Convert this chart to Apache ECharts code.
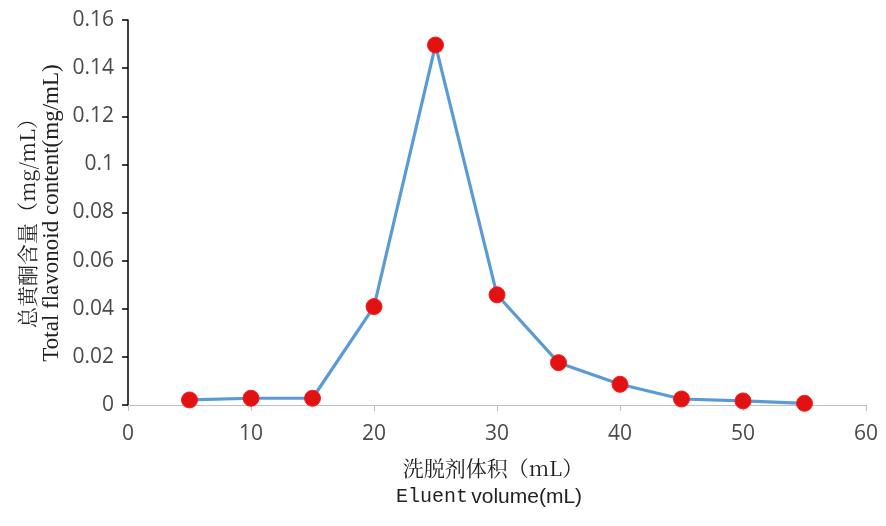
<!DOCTYPE html>
<html><head><meta charset="utf-8">
<script src="https://cdn.jsdelivr.net/npm/echarts@6/dist/echarts.min.js"></script>
<style>html,body{margin:0;padding:0;background:#fff}#c{width:886px;height:526px}</style>
</head><body><div id="c"></div>
<script>
const volumes = [5, 10, 15, 20, 25, 30, 35, 40, 45, 50, 55];
const flavonoid = [0.0021, 0.0028, 0.0028, 0.0409, 0.1496, 0.0458, 0.0176, 0.0086, 0.0025, 0.0017, 0.0007];
const xTitleCn = '洗脱剂体积（mL）';
const xTitleEnA = 'Eluent';
const xTitleEnB = 'volume(mL)';
const yTitleCn = '总黄酮含量（mg/mL）';
const yTitleEn = 'Total flavonoid content(mg/mL)';

const chart = echarts.init(document.getElementById('c'), null, {renderer: 'canvas'});
const labelFont = {color: '#4a4a4a', fontSize: 21, fontFamily: 'Open Sans, Noto Sans, sans-serif'};
chart.setOption({
  animation: false,
  backgroundColor: '#fff',
  grid: {left: 128, right: 20, top: 20, bottom: 121, containLabel: false},
  xAxis: {
    type: 'value', min: 0, max: 60, interval: 10,
    axisLine: {show: true, lineStyle: {color: '#bfbfbf', width: 1}},
    axisTick: {show: true, length: 6, lineStyle: {color: '#bfbfbf'}},
    splitLine: {show: false},
    axisLabel: Object.assign({margin: 19}, labelFont)
  },
  yAxis: {
    type: 'value', min: 0, max: 0.16, interval: 0.02,
    axisLine: {show: true, lineStyle: {color: '#000', width: 1.5}},
    axisTick: {show: true, length: 6, lineStyle: {color: '#000', width: 1.5}},
    splitLine: {show: false},
    axisLabel: Object.assign({margin: 14, formatter: v => String(+v.toFixed(2))}, labelFont)
  },
  graphic: [
    {type: 'text', x: 493, y: 468, style: {text: xTitleCn, font: '21px "Noto Serif CJK SC", "Noto Sans CJK SC", serif', fill: '#222', align: 'center', verticalAlign: 'middle'}},
    {type: 'text', x: 489, y: 497, style: {
      text: '{a|' + xTitleEnA + '} {b|' + xTitleEnB + '}', align: 'center', verticalAlign: 'middle',
      rich: {
        a: {fontFamily: '"Liberation Mono", monospace', fontSize: 20, fill: '#222', color: '#222'},
        b: {fontFamily: '"Liberation Sans Narrow", "Liberation Sans", sans-serif', fontSize: 21, color: '#222', fill: '#222'}
      }
    }},
    {type: 'text', rotation: Math.PI / 2, x: 27, y: 218, style: {text: yTitleCn, font: '21px "Noto Serif CJK SC", "Noto Sans CJK SC", serif', fill: '#222', align: 'center', verticalAlign: 'middle'}},
    {type: 'text', rotation: Math.PI / 2, x: 52, y: 213, style: {text: yTitleEn, font: '23px "Liberation Serif", serif', fill: '#222', align: 'center', verticalAlign: 'middle'}}
  ],
  series: [{
    type: 'line',
    data: volumes.map((v, i) => [v, flavonoid[i]]),
    lineStyle: {color: '#5b9bd5', width: 3.2},
    symbol: 'circle', symbolSize: 16,
    itemStyle: {color: '#e01212', borderColor: '#ff1a1a', borderWidth: 1}
  }]
});
</script></body></html>
